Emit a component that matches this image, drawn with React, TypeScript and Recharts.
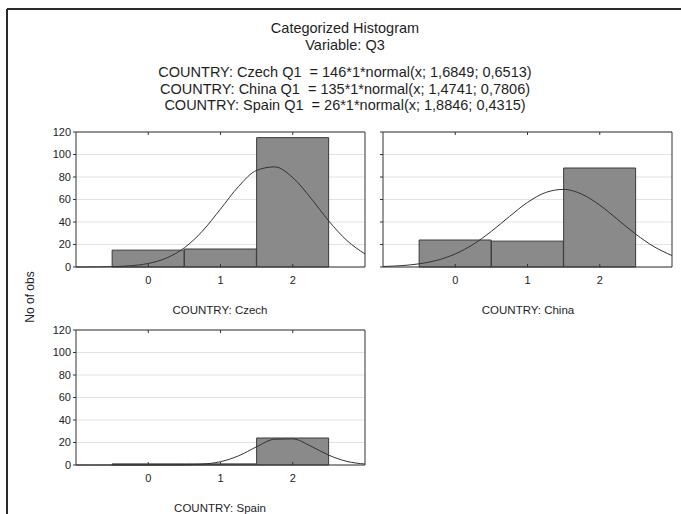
import {
  ComposedChart,
  Bar,
  Line,
  XAxis,
  YAxis,
  CartesianGrid,
} from 'recharts';

// histogram bins (Q3 answer values)
const binCenters = [0, 1, 2];
const czechCounts = [15, 16, 115];
const chinaCounts = [24, 23, 88];
const spainCounts = [1, 1, 24];

// fitted normal curves, read along the x axis
const curveX = [-1, -0.75, -0.5, -0.25, 0, 0.25, 0.5, 0.75, 1, 1.25, 1.5, 1.75, 2, 2.25, 2.5, 2.75, 3];
const czechFit = [0.02, 0.08, 0.32, 1.08, 3.15, 7.9, 17.1, 31.9, 51.5, 71.6, 85.9, 89.0, 79.5, 61.3, 40.8, 23.5, 11.6];
const chinaFit = [0.45, 1.19, 2.82, 6.0, 11.6, 20.2, 31.7, 44.9, 57.4, 66.2, 69.0, 64.8, 55.0, 42.1, 29.1, 18.1, 10.2];
const spainFit = [0, 0, 0, 0, 0, 0.02, 0.14, 0.76, 2.94, 8.15, 16.2, 22.9, 23.2, 16.8, 8.7, 3.2, 0.85];

const xTicks = [0, 1, 2];
const yTicks = [0, 20, 40, 60, 80, 100, 120];

const titleLines = [
  'COUNTRY: Czech Q1  = 146*1*normal(x; 1,6849; 0,6513)',
  'COUNTRY: China Q1  = 135*1*normal(x; 1,4741; 0,7806)',
  'COUNTRY: Spain Q1  = 26*1*normal(x; 1,8846; 0,4315)',
];

const FONT = '"Liberation Sans", Arial, sans-serif';
const PLOT_W = 289;
const PLOT_H = 135;
const LEFT = 40;
const TOP = 12;
const RIGHT = 8;
const BOTTOM = 30;

interface PanelProps {
  counts: number[];
  fit: number[];
  left: number;
  top: number;
  showYLabels?: boolean;
}

function Panel({ counts, fit, left, top, showYLabels = true }: PanelProps) {
  const bars = binCenters.map((x, i) => ({ x, count: counts[i] }));
  const curve = curveX.map((x, i) => ({ x, fit: fit[i] }));
  const tickStyle = { fill: '#222', fontSize: 11, fontFamily: FONT };

  return (
    <div style={{ position: 'absolute', left, top }}>
      <ComposedChart
        data={bars}
        width={PLOT_W + LEFT + RIGHT}
        height={PLOT_H + TOP + BOTTOM}
        margin={{ top: 0, right: 0, left: 0, bottom: 0 }}
        barCategoryGap={0}
        barGap={0}
      >
        <CartesianGrid
          horizontal
          vertical={false}
          stroke="#e2e2e2"
          yAxisId="left"
          xAxisId="bottom"
        />
        <XAxis
          xAxisId="bottom"
          dataKey="x"
          type="number"
          domain={[-1, 3]}
          ticks={xTicks}
          allowDataOverflow
          height={BOTTOM}
          stroke="#333"
          tickSize={-3}
          tickMargin={12}
          tick={tickStyle}
        />
        {/* top axis frames the plot and carries the fitted curve */}
        <XAxis
          xAxisId="top"
          orientation="top"
          dataKey="x"
          type="number"
          domain={[-1, 3]}
          ticks={xTicks}
          allowDataOverflow
          height={TOP}
          stroke="#333"
          tickSize={-3}
          tickFormatter={() => ''}
        />
        <YAxis
          yAxisId="left"
          type="number"
          domain={[0, 120]}
          ticks={yTicks}
          width={LEFT}
          stroke="#333"
          tickSize={3}
          tickMargin={2}
          tick={tickStyle}
          tickFormatter={(v: number) => (showYLabels ? String(v) : '')}
          interval={0}
        />
        <YAxis
          yAxisId="right"
          orientation="right"
          type="number"
          domain={[0, 120]}
          ticks={yTicks}
          width={RIGHT}
          stroke="#333"
          tickSize={-3}
          tickFormatter={() => ''}
          interval={0}
        />
        <Bar
          dataKey="count"
          xAxisId="bottom"
          yAxisId="left"
          fill="#8a8a8a"
          stroke="#3a3a3a"
          strokeWidth={1}
          isAnimationActive={false}
        />
        <Line
          data={curve}
          dataKey="fit"
          xAxisId="top"
          yAxisId="left"
          type="monotone"
          stroke="#333"
          strokeWidth={1}
          dot={false}
          activeDot={false}
          isAnimationActive={false}
        />
      </ComposedChart>
    </div>
  );
}

export default function App() {
  const text = { fontFamily: FONT, fill: '#1e1e1e' };
  return (
    <div
      style={{
        position: 'absolute',
        left: 0,
        top: 0,
        width: 681,
        height: 514,
        background: '#fff',
        overflow: 'hidden',
      }}
    >
      <svg width={681} height={514} style={{ position: 'absolute', left: 0, top: 0 }}>
        <line x1={7} y1={9} x2={681} y2={9} stroke="#2a2a2a" strokeWidth={2} />
        <line x1={7} y1={9} x2={7} y2={514} stroke="#2a2a2a" strokeWidth={2} />
        <text x={345} y={33} textAnchor="middle" fontSize={14.5} {...text}>
          Categorized Histogram
        </text>
        <text x={345} y={50} textAnchor="middle" fontSize={14.5} {...text}>
          Variable: Q3
        </text>
        {titleLines.map((t, i) => (
          <text
            key={t}
            x={345}
            y={77 + i * 16.5}
            textAnchor="middle"
            fontSize={14.5}
            style={{ whiteSpace: 'pre' }}
            {...text}
          >
            {t}
          </text>
        ))}
        <text
          x={0}
          y={0}
          transform="translate(34 297) rotate(-90)"
          textAnchor="middle"
          fontSize={12}
          {...text}
        >
          No of obs
        </text>
        <text x={220} y={314} textAnchor="middle" fontSize={11.5} {...text}>
          COUNTRY: Czech
        </text>
        <text x={528} y={314} textAnchor="middle" fontSize={11.5} {...text}>
          COUNTRY: China
        </text>
        <text x={220} y={512} textAnchor="middle" fontSize={11.5} {...text}>
          COUNTRY: Spain
        </text>
      </svg>
      <Panel counts={czechCounts} fit={czechFit} left={76 - LEFT} top={132 - TOP} />
      <Panel
        counts={chinaCounts}
        fit={chinaFit}
        left={383 - LEFT}
        top={132 - TOP}
        showYLabels={false}
      />
      <Panel counts={spainCounts} fit={spainFit} left={76 - LEFT} top={330 - TOP} />
    </div>
  );
}
